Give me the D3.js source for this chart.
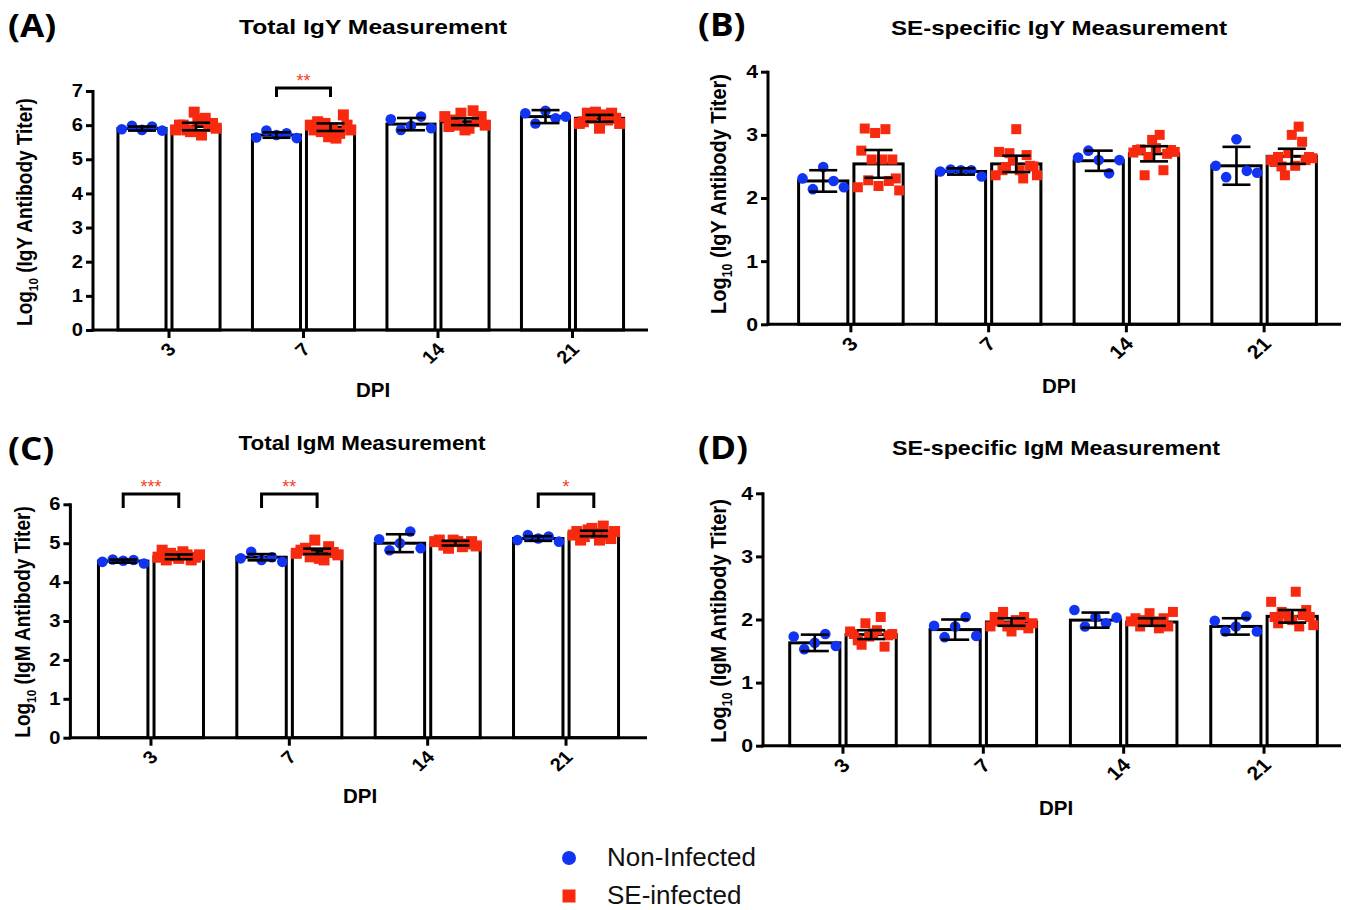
<!DOCTYPE html>
<html>
<head>
<meta charset="utf-8">
<script src="https://cdn.jsdelivr.net/npm/d3@7"></script>
<style>
  body { margin: 0; background: #fff; }
  svg { display: block; }
</style>
</head>
<body>
<div class="chart-container"></div>
<script>

// ---- data ----
const days = ["3", "7", "14", "21"];
const groups = ["Non-Infected", "SE-infected"];

// (A) Total IgY
const totalIgYMeanNI = [5.90, 5.71, 6.03, 6.25];
const totalIgYErrNI = [0.06, 0.08, 0.18, 0.19];
const totalIgYMeanSE = [5.96, 5.94, 6.10, 6.20];
const totalIgYErrSE = [0.11, 0.11, 0.10, 0.10];
const totalIgYPointsNI = [
    [5.88, 5.98, 5.86, 5.96, 5.84],
    [5.64, 5.84, 5.71, 5.76, 5.62],
    [6.17, 5.86, 5.98, 6.25, 5.91],
    [6.35, 6.05, 6.42, 6.20, 6.25]
];
const totalIgYPointsSE = [
    [5.86, 6.00, 6.00, 5.86, 5.81, 6.38, 6.15, 5.71, 6.20, 5.96, 6.05, 5.91],
    [6.00, 5.86, 6.10, 5.81, 6.05, 5.66, 5.91, 5.62, 5.76, 6.30, 6.00, 5.86],
    [6.25, 5.96, 6.15, 6.00, 6.35, 5.86, 5.91, 6.42, 6.10, 6.25, 6.00],
    [6.05, 6.10, 6.35, 6.20, 6.38, 5.91, 6.30, 6.15, 6.35, 6.20, 6.05]
];
const totalIgYSig = [{ day: "7", label: "**" }];

// (B) SE-specific IgY
const seIgYMeanNI = [2.27, 2.42, 2.59, 2.51];
const seIgYErrNI = [0.17, 0.05, 0.16, 0.30];
const seIgYMeanSE = [2.54, 2.54, 2.70, 2.66];
const seIgYErrSE = [0.22, 0.13, 0.12, 0.12];
const seIgYPointsNI = [
    [2.31, 2.14, 2.49, 2.27, 2.17],
    [2.42, 2.45, 2.44, 2.44, 2.34],
    [2.64, 2.75, 2.60, 2.39, 2.60],
    [2.51, 2.33, 2.93, 2.43, 2.40]
];
const seIgYPointsSE = [
    [2.17, 2.75, 3.10, 2.28, 2.61, 3.03, 2.19, 2.61, 3.09, 2.27, 2.61, 2.31, 2.12],
    [2.36, 2.73, 2.44, 2.49, 2.71, 2.60, 3.09, 2.44, 2.31, 2.68, 2.51, 2.50, 2.36],
    [2.72, 2.76, 2.77, 2.36, 2.65, 2.92, 2.79, 3.00, 2.44, 2.70, 2.76, 2.73],
    [2.60, 2.57, 2.65, 2.50, 2.36, 2.71, 3.00, 2.51, 3.13, 2.89, 2.60, 2.65, 2.63]
];
const seIgYSig = [];

// (C) Total IgM
const totalIgMMeanNI = [4.54, 4.64, 5.00, 5.12];
const totalIgMErrNI = [0.04, 0.08, 0.23, 0.06];
const totalIgMMeanSE = [4.65, 4.79, 5.00, 5.25];
const totalIgMErrSE = [0.06, 0.07, 0.06, 0.07];
const totalIgMPointsNI = [
    [4.52, 4.58, 4.55, 4.57, 4.48],
    [4.61, 4.78, 4.57, 4.64, 4.52],
    [5.10, 4.82, 5.00, 5.30, 4.87],
    [5.08, 5.21, 5.12, 5.17, 5.04]
];
const totalIgMPointsSE = [
    [4.64, 4.82, 4.57, 4.74, 4.67, 4.61, 4.78, 4.70, 4.57, 4.64, 4.70],
    [4.74, 4.82, 4.87, 4.65, 5.08, 4.61, 4.57, 4.91, 4.76, 4.70],
    [5.04, 5.08, 4.95, 4.87, 5.08, 5.04, 4.91, 4.98, 5.04, 4.93],
    [5.21, 5.30, 5.08, 5.17, 5.34, 5.38, 5.25, 5.08, 5.44, 5.21, 5.12, 5.30]
];
const totalIgMSig = [
    { day: "3", label: "***" },
    { day: "7", label: "**" },
    { day: "21", label: "*" }
];

// (D) SE-specific IgM
const seIgMMeanNI = [1.63, 1.84, 1.99, 1.89];
const seIgMErrNI = [0.13, 0.16, 0.12, 0.13];
const seIgMMeanSE = [1.76, 1.96, 1.96, 2.05];
const seIgMErrSE = [0.07, 0.06, 0.06, 0.10];
const seIgMPointsNI = [
    [1.73, 1.53, 1.63, 1.77, 1.58],
    [1.90, 1.72, 1.89, 2.04, 1.74],
    [2.15, 1.89, 2.04, 1.94, 2.03],
    [1.98, 1.81, 1.89, 2.05, 1.81]
];
const seIgMPointsSE = [
    [1.81, 1.77, 1.67, 1.60, 1.94, 1.73, 1.78, 1.83, 2.04, 1.57, 1.75, 1.77],
    [1.89, 2.04, 1.97, 2.12, 1.89, 1.81, 1.99, 1.91, 2.04, 1.86, 1.94],
    [1.97, 2.02, 1.89, 1.99, 2.10, 1.97, 1.86, 2.02, 1.89, 2.12],
    [2.28, 2.04, 1.94, 2.12, 2.09, 2.04, 1.99, 2.44, 1.89, 2.07, 2.15, 2.04, 1.91]
];
const seIgMSig = [];

// ---- styling ----
const FONT = "'Liberation Sans', Arial, Helvetica, sans-serif";
const BLUE = "#1034f2";
const RED = "#f72a10";
const STAR_RED = "#f5402a";

const W = 1351, H = 910;

const svg = d3.select(".chart-container")
    .append("svg")
    .attr("width", W)
    .attr("height", H)
    .attr("viewBox", "0 0 " + W + " " + H);

function toRows(means, errs, points) {
    return days.map((d, i) => ({ day: d, mean: means[i], err: errs[i], points: points[i] }));
}

const panels = [
    {
        tag: "(A)", title: "Total IgY Measurement", ab: "IgY", ymax: 7,
        ni: toRows(totalIgYMeanNI, totalIgYErrNI, totalIgYPointsNI),
        se: toRows(totalIgYMeanSE, totalIgYErrSE, totalIgYPointsSE),
        sig: totalIgYSig,
        axisX: 93, y0: 330, yTop: 91, x0: 101.75, x1: 639.75, axisEnd: 648,
        tagX: 8, tagY: 37, titleX: 373, titleY: 34, titleLen: 268,
        yLabX: 32, yLabY: 212, yLabLen: 232, yLabFont: 19,
        dpiX: 373, dpiY: 397,
        bracketY: 88, legLen: 9, tickFont: 17.5, sq: 11, r: 5.3
    },
    {
        tag: "(B)", title: "SE-specific IgY Measurement", ab: "IgY", ymax: 4,
        ni: toRows(seIgYMeanNI, seIgYErrNI, seIgYPointsNI),
        se: toRows(seIgYMeanSE, seIgYErrSE, seIgYPointsSE),
        sig: seIgYSig,
        axisX: 768, y0: 324.3, yTop: 71.7, x0: 782, x1: 1333, axisEnd: 1341,
        tagX: 698, tagY: 36, titleX: 1059, titleY: 35, titleLen: 336,
        yLabX: 726, yLabY: 194, yLabLen: 246, yLabFont: 20,
        dpiX: 1059, dpiY: 393,
        bracketY: 60, legLen: 9, tickFont: 18.5, sq: 10, r: 5.3
    },
    {
        tag: "(C)", title: "Total IgM Measurement", ab: "IgM", ymax: 6,
        ni: toRows(totalIgMMeanNI, totalIgMErrNI, totalIgMPointsNI),
        se: toRows(totalIgMMeanSE, totalIgMErrSE, totalIgMPointsSE),
        sig: totalIgMSig,
        axisX: 70.4, y0: 737.7, yTop: 504.3, x0: 81.8, x1: 635.2, axisEnd: 647,
        tagX: 8, tagY: 460, titleX: 362, titleY: 450, titleLen: 247,
        yLabX: 30, yLabY: 622, yLabLen: 228, yLabFont: 19,
        dpiX: 360, dpiY: 803,
        bracketY: 494, legLen: 14, tickFont: 17.5, sq: 11, r: 5.3
    },
    {
        tag: "(D)", title: "SE-specific IgM Measurement", ab: "IgM", ymax: 4,
        ni: toRows(seIgMMeanNI, seIgMErrNI, seIgMPointsNI),
        se: toRows(seIgMMeanSE, seIgMErrSE, seIgMPointsSE),
        sig: seIgMSig,
        axisX: 763, y0: 745.7, yTop: 493.3, x0: 772.8, x1: 1334.2, axisEnd: 1341,
        tagX: 698, tagY: 459, titleX: 1056, titleY: 455, titleLen: 328,
        yLabX: 726, yLabY: 621, yLabLen: 246, yLabFont: 20,
        dpiX: 1056, dpiY: 815,
        bracketY: 480, legLen: 9, tickFont: 18.5, sq: 10, r: 5.3
    }
];

function drawPanel(p) {

    const g = svg.append("g");

    const y = d3.scaleLinear().domain([0, p.ymax]).range([p.y0, p.yTop]);
    const x = d3.scaleBand().domain(days).range([p.x0, p.x1]);
    const xs = d3.scaleBand().domain(groups)
        .range([0, x.bandwidth()])
        .paddingInner(0.11)
        .paddingOuter(0.3);
    const bw = xs.bandwidth();

    const series = [
        { key: groups[0], rows: p.ni, color: BLUE, shape: "circle" },
        { key: groups[1], rows: p.se, color: RED, shape: "square" }
    ];

    // bars
    series.forEach(s => {
        g.selectAll(null)
            .data(s.rows)
            .enter()
            .append("rect")
            .attr("x", d => x(d.day) + xs(s.key))
            .attr("y", d => y(d.mean))
            .attr("width", bw)
            .attr("height", d => y(0) - y(d.mean))
            .attr("fill", "#fff")
            .attr("stroke", "#000")
            .attr("stroke-width", 3);
    });

    // scatter points, spread across the bar
    series.forEach(s => {
        s.rows.forEach(row => {
            const cx = x(row.day) + xs(s.key) + bw / 2;
            const n = row.points.length;
            const span = bw * 0.84;
            const pts = row.points.map((v, i) => ({
                px: cx + (n > 1 ? (i / (n - 1) - 0.5) * span : 0),
                py: y(v)
            }));
            if (s.shape === "circle") {
                g.selectAll(null).data(pts).enter()
                    .append("circle")
                    .attr("cx", d => d.px)
                    .attr("cy", d => d.py)
                    .attr("r", p.r)
                    .attr("fill", s.color);
            } else {
                g.selectAll(null).data(pts).enter()
                    .append("rect")
                    .attr("x", d => d.px - p.sq / 2)
                    .attr("y", d => d.py - p.sq / 2)
                    .attr("width", p.sq)
                    .attr("height", p.sq)
                    .attr("fill", s.color);
            }
        });
    });

    // error bars
    const capW = 28;
    series.forEach(s => {
        const eb = g.selectAll(null).data(s.rows).enter().append("g")
            .attr("stroke", "#000")
            .attr("stroke-width", 2.6);
        const cx = d => x(d.day) + xs(s.key) + bw / 2;
        eb.append("line")
            .attr("x1", cx).attr("x2", cx)
            .attr("y1", d => y(d.mean + d.err))
            .attr("y2", d => y(d.mean - d.err));
        eb.append("line")
            .attr("x1", d => cx(d) - capW / 2).attr("x2", d => cx(d) + capW / 2)
            .attr("y1", d => y(d.mean + d.err)).attr("y2", d => y(d.mean + d.err));
        eb.append("line")
            .attr("x1", d => cx(d) - capW / 2).attr("x2", d => cx(d) + capW / 2)
            .attr("y1", d => y(d.mean - d.err)).attr("y2", d => y(d.mean - d.err));
    });

    // y axis
    const yAxis = g.append("g")
        .attr("transform", "translate(" + p.axisX + ",0)")
        .call(d3.axisLeft(y).ticks(p.ymax).tickSize(7).tickSizeOuter(0).tickPadding(3));
    yAxis.select(".domain").remove();
    yAxis.selectAll(".tick line").attr("stroke", "#000").attr("stroke-width", 3);
    yAxis.selectAll(".tick text")
        .attr("fill", "#000")
        .attr("x", 0)
        .attr("transform", "translate(-10,0) scale(1.15,1)")
        .style("font-family", FONT)
        .style("font-weight", "bold")
        .style("font-size", p.tickFont + "px");
    g.append("line")
        .attr("x1", p.axisX).attr("x2", p.axisX)
        .attr("y1", y(0) + 1.5).attr("y2", y(p.ymax) - 1)
        .attr("stroke", "#000").attr("stroke-width", 3);

    // x axis
    const xAxis = g.append("g")
        .attr("transform", "translate(0," + p.y0 + ")")
        .call(d3.axisBottom(x).tickSize(8).tickSizeOuter(0));
    xAxis.select(".domain").remove();
    xAxis.selectAll(".tick line").attr("stroke", "#000").attr("stroke-width", 3);
    xAxis.selectAll(".tick text")
        .attr("fill", "#000")
        .attr("x", 0).attr("y", 0).attr("dy", "0.35em")
        .attr("transform", "translate(3,16) scale(1.12,1) rotate(-45)")
        .style("text-anchor", "end")
        .style("font-family", FONT)
        .style("font-weight", "bold")
        .style("font-size", (p.tickFont + 0.5) + "px");
    g.append("line")
        .attr("x1", p.axisX - 1.5).attr("x2", p.axisEnd)
        .attr("y1", p.y0).attr("y2", p.y0)
        .attr("stroke", "#000").attr("stroke-width", 3);

    // significance brackets
    p.sig.forEach(s => {
        const xl = x(s.day) + xs(groups[0]) + bw / 2;
        const xr = x(s.day) + xs(groups[1]) + bw / 2;
        g.append("path")
            .attr("d", "M" + xl + "," + (p.bracketY + p.legLen) + "V" + p.bracketY +
                "H" + xr + "V" + (p.bracketY + p.legLen))
            .attr("fill", "none")
            .attr("stroke", "#000")
            .attr("stroke-width", 3);
        g.append("text")
            .attr("x", (xl + xr) / 2)
            .attr("y", p.bracketY - 1)
            .attr("text-anchor", "middle")
            .attr("fill", STAR_RED)
            .style("font-family", FONT)
            .style("font-size", "18px")
            .text(s.label);
    });

    // panel tag
    g.append("text")
        .attr("transform", "translate(" + p.tagX + "," + p.tagY + ") scale(1.1,1)")
        .style("font-family", "'Open Sans', 'DejaVu Sans', sans-serif")
        .style("font-weight", "bold")
        .style("font-size", "32px")
        .text(p.tag);

    // title
    g.append("text")
        .attr("x", p.titleX - p.titleLen / 2).attr("y", p.titleY)
        .attr("textLength", p.titleLen)
        .attr("lengthAdjust", "spacingAndGlyphs")
        .style("font-family", FONT)
        .style("font-weight", "bold")
        .style("font-size", "20.5px")
        .text(p.title);

    // y label
    const yl = g.append("text")
        .attr("transform", "translate(" + p.yLabX + "," + p.yLabY + ") rotate(-90) scale(1,1.12)")
        .attr("text-anchor", "middle")
        .style("font-family", FONT)
        .style("font-weight", "bold")
        .style("font-size", p.yLabFont + "px");
    yl.append("tspan").text("Log");
    yl.append("tspan").attr("dy", 5).style("font-size", (p.yLabFont * 0.62) + "px").text("10");
    yl.append("tspan").attr("dy", -5).text(" (" + p.ab + " Antibody Titer)");

    // x label
    g.append("text")
        .attr("x", p.dpiX).attr("y", p.dpiY)
        .attr("text-anchor", "middle")
        .style("font-family", FONT)
        .style("font-weight", "bold")
        .style("font-size", "20.5px")
        .text("DPI");
}

panels.forEach(drawPanel);

// legend
const legend = svg.append("g");
const legendRows = [
    { label: groups[0], color: BLUE, shape: "circle", cy: 858 },
    { label: groups[1], color: RED, shape: "square", cy: 896 }
];
legendRows.forEach(r => {
    if (r.shape === "circle") {
        legend.append("circle").attr("cx", 569).attr("cy", r.cy).attr("r", 7).attr("fill", r.color);
    } else {
        legend.append("rect").attr("x", 562.5).attr("y", r.cy - 6.5)
            .attr("width", 13).attr("height", 13).attr("fill", r.color);
    }
    legend.append("text")
        .attr("x", 607).attr("y", r.cy + 8)
        .style("font-family", FONT)
        .style("font-size", "26px")
        .attr("fill", "#111")
        .text(r.label);
});

</script>
</body>
</html>
